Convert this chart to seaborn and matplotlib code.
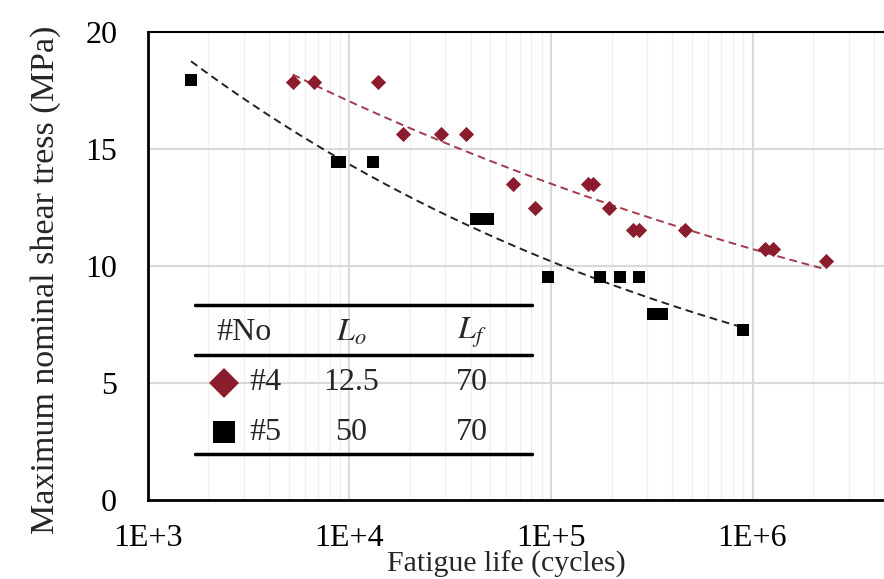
import numpy as np
import matplotlib.pyplot as plt
import seaborn as sns
from matplotlib.lines import Line2D
from matplotlib.ticker import LogLocator, NullLocator

# specimen #4 (Lo = 12.5, Lf = 70)
n4 = [5240, 6680, 13830, 18530, 28600, 37900, 64900, 83400, 152800, 161800,
      194200, 255500, 273500, 460000, 1158000, 1268000, 2323000]
s4 = [17.88, 17.88, 17.88, 15.64, 15.64, 15.64, 13.5, 12.47, 13.5, 13.5,
      12.47, 11.54, 11.54, 11.54, 10.73, 10.73, 10.23]

# specimen #5 (Lo = 50, Lf = 70)
n5 = [1640, 8700, 9000, 13120, 42360, 48740, 96800, 175200, 220300, 273600,
      320900, 355500, 897000]
s5 = [17.95, 14.45, 14.45, 14.45, 12.0, 12.0, 9.55, 9.55, 9.55, 9.55,
      7.95, 7.95, 7.26]

xticks = [1e3, 1e4, 1e5, 1e6]
xticklabels = ['1E+3', '1E+4', '1E+5', '1E+6']
yticks = [0, 5, 10, 15, 20]

table_header = ['#No', '$L_o$', '$L_f$']
table_rows = [['#4', '12.5', '70'], ['#5', '50', '70']]

sns.set_style('white')
plt.rcParams['font.family'] = ['Liberation Serif', 'DejaVu Serif']
plt.rcParams['mathtext.fontset'] = 'stix'

red = '#8B1C2E'
red_line = '#A13A4B'

W, H = 884, 579
fig = plt.figure(figsize=(W / 100, H / 100), dpi=100)
ax = fig.add_axes([147.7 / W, 1 - 500 / H, 4 * 201.6 / W, 468 / H])
ax.set_xscale('log')


def power_fit(n, s):
    # power-law trendline, straight in log-log space
    b, a = np.polyfit(np.log10(n), np.log10(s), 1)
    xx = np.logspace(np.log10(min(n)), np.log10(max(n)), 200)
    return xx, 10 ** a * xx ** b


x4, y4 = power_fit(n4, s4)
x5, y5 = power_fit(n5, s5)
sns.lineplot(x=x4, y=y4, ax=ax, color=red_line, lw=1.4, linestyle=(0, (4, 2.5)), zorder=2)
sns.lineplot(x=x5, y=y5, ax=ax, color='#222222', lw=1.4, linestyle=(0, (4, 2.5)), zorder=2)

sns.scatterplot(x=n4, y=s4, ax=ax, marker='D', s=60, color=red, linewidth=0, zorder=3)
sns.scatterplot(x=n5, y=s5, ax=ax, marker='s', s=75, color='black', linewidth=0, zorder=3)

ax.set_xlim(1e3, 1e7)
ax.set_ylim(0, 20)
ax.set_xticks(xticks)
ax.set_xticklabels(xticklabels)
ax.xaxis.set_minor_locator(LogLocator(base=10, subs=np.arange(2, 10)))
ax.set_yticks(yticks)
ax.yaxis.set_minor_locator(NullLocator())

ax.set_axisbelow(True)
ax.grid(which='major', color='#d9d9d9', lw=1.5)
ax.grid(which='minor', axis='x', color='#f0f0f0', lw=1.0)

for side in ['left', 'bottom', 'top', 'right']:
    ax.spines[side].set_color('black')
ax.spines['left'].set_linewidth(2.0)
ax.spines['bottom'].set_linewidth(2.0)
ax.spines['top'].set_linewidth(1.5)

ax.tick_params(which='major', direction='inout', length=14, width=1.5,
               labelsize=23, colors='black')
ax.tick_params(axis='y', which='major', pad=15)
ax.tick_params(axis='x', which='major', pad=10)
ax.tick_params(axis='x', which='minor', direction='in', length=7, width=1.2)

ax.set_xlabel('Fatigue life (cycles)', fontsize=21.5, va='bottom')
ax.set_ylabel('Maximum nominal shear tress (MPa)', fontsize=24.5)
ax.xaxis.set_label_coords(0.445, (500 - 578) / 468)
ax.yaxis.set_label_coords(-0.108, 0.47)


# legend table drawn in pixel positions of the figure
def fx(px):
    return px / W


def fy(py):
    return 1 - py / H


for y in [305, 355, 454]:
    fig.add_artist(Line2D([fx(195), fx(532)], [fy(y), fy(y)], color='black', lw=2.5))

col_x = [244, 351, 472]
for x, t in zip(col_x, table_header):
    fig.text(fx(x), fy(333), t, ha='center', va='center', fontsize=23)

row_y = [383, 432]
markers = [('D', red, 15), ('s', 'black', 16)]
for y, row, (m, c, ms) in zip(row_y, table_rows, markers):
    fig.add_artist(Line2D([fx(224)], [fy(y)], marker=m, color=c, ms=ms, ls='none', mew=0))
    fig.text(fx(265), fy(y), row[0], ha='center', va='center', fontsize=23)
    fig.text(fx(col_x[1]), fy(y), row[1], ha='center', va='center', fontsize=23)
    fig.text(fx(col_x[2]), fy(y), row[2], ha='center', va='center', fontsize=23)

fig.savefig('out.png', dpi=100)
